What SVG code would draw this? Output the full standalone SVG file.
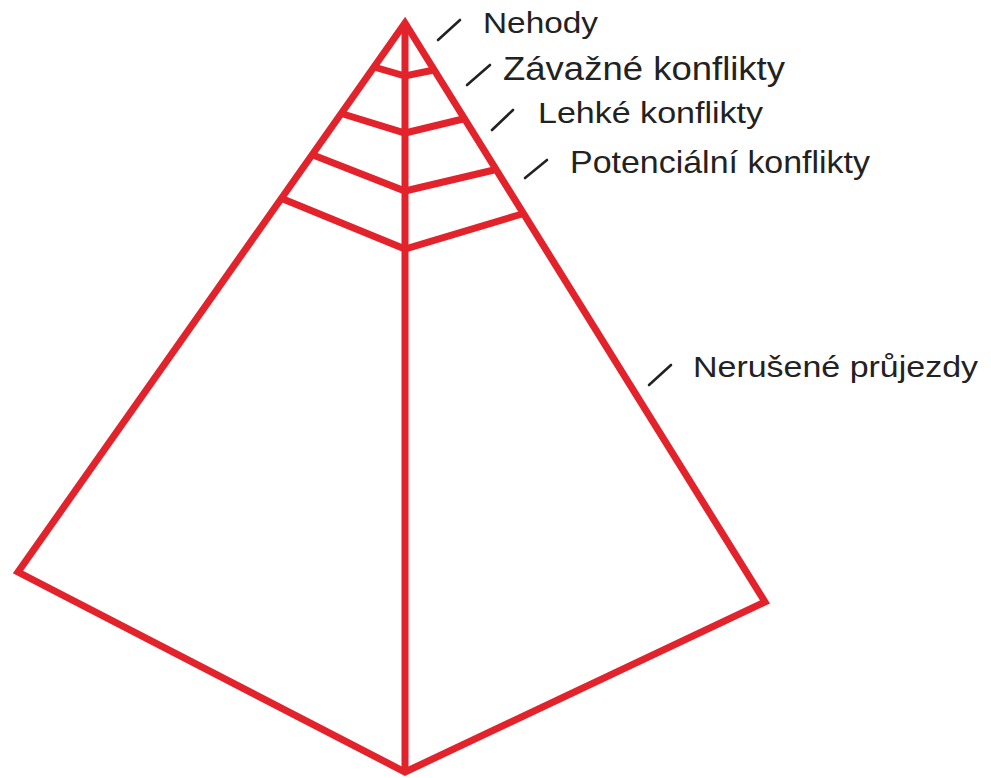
<svg xmlns="http://www.w3.org/2000/svg" width="991" height="778" viewBox="0 0 991 778">
<style>
.red{fill:none;stroke:#e3232b;stroke-width:7;stroke-linejoin:miter;stroke-linecap:butt}
.tick{stroke:#222;stroke-width:2.6;stroke-linecap:round}
.lbl{font-family:"Liberation Sans",Arial,sans-serif;fill:#222}
</style>
<rect width="991" height="778" fill="#fff"/>
<g id="pyramid">
<polygon class="red" points="405,23 18,572 405,772 765,602"/>
<line class="red" x1="405" y1="23" x2="405" y2="772"/>
</g>
<g id="bands">
<polyline class="red" points="374,67 405,76 434,70"/>
<polyline class="red" points="343,114 405,133 463,119"/>
<polyline class="red" points="313,155 405,191 494,170"/>
<polyline class="red" points="283,199 405,249 522,214"/>
</g>
<g id="connectors">
<line class="tick" x1="438" y1="40" x2="460" y2="20"/>
<line class="tick" x1="467" y1="85" x2="490" y2="65"/>
<line class="tick" x1="492" y1="130" x2="513" y2="110"/>
<line class="tick" x1="525" y1="178" x2="547" y2="160"/>
<line class="tick" x1="649" y1="385" x2="671" y2="365"/>
</g>
<g id="label-nehody"><text class="lbl" x="483" y="33" font-size="29" textLength="115" lengthAdjust="spacingAndGlyphs">Nehody</text></g>
<g id="label-zavazne"><text class="lbl" x="503" y="80" font-size="34" textLength="282" lengthAdjust="spacingAndGlyphs">Závažné konflikty</text></g>
<g id="label-lehke"><text class="lbl" x="538" y="123" font-size="30" textLength="225" lengthAdjust="spacingAndGlyphs">Lehké konflikty</text></g>
<g id="label-potencialni"><text class="lbl" x="570" y="173" font-size="32" textLength="300" lengthAdjust="spacingAndGlyphs">Potenciální konflikty</text></g>
<g id="label-neruseny"><text class="lbl" x="693" y="377" font-size="30" textLength="285" lengthAdjust="spacingAndGlyphs">Nerušené průjezdy</text></g>
</svg>
